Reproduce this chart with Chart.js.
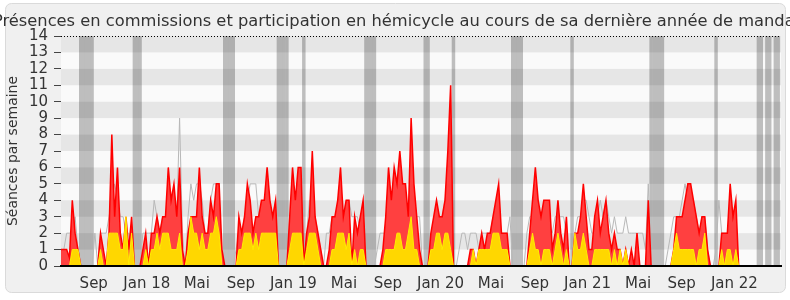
<!DOCTYPE html>
<html>
<head>
<meta charset="utf-8">
<script src="https://cdn.jsdelivr.net/npm/chart.js@4.4.0/dist/chart.umd.min.js"></script>
<style>
  html, body { margin: 0; padding: 0; background: #fff; }
  #wrap { width: 790px; height: 300px; }
</style>
</head>
<body>
<div id="wrap"><canvas id="chart" width="790" height="300"></canvas></div>
<script>
// une valeur par semaine, de juin 2017 a avril 2022
var hemicycle = [
  1,1,1,0.5,4,2,1,0,0,0,  0,0,0,0,2,1,0,2,8,3,  6,2,1,3,1,3,0,0,0,1,
  2,0,2,2,3,2,3,3,6,4,  5,3,6,1,0,2,3,3,3,6,  3,2,2,4,3,5,5,1,0,0,
  0,0,0,3,2,3,5,4,2,3,  3,4,4,6,4,3,4,0,0,0,  0,3,6,4,6,6,0,2,3,7,
  3,2,1,0,0,1,3,3,4,6,  3,4,4,0,3,2,3,4,0,0,  0,0,0,0,1,3,6,4,6,5,
  7,5,5,3,9,5,3,1,0,0,  0,2,3,4,3,3,4,7,11,0, 0,0,0,0,0,1,1,0,1,2,
  1,2,2,3,4,5,2,2,2,0,  0,0,0,0,0,0,2,4,6,4,  3,4,4,4,1,2,4,2,1,3,
  0,0,2,2,3,5,3,1,1,3,  4,2,3,4,2,1,2,1,1,0,  1,0,1,0,2,0,0,0,4,0,
  0,0,0,0,0,0,0,1,3,3,  3,4,5,5,4,3,2,3,3,1,  0,0,0,0,2,2,2,5,3,4,
  0,0,0,0,0,0,0,0,0,0,  0,0,0,0,0,0
];
var interventions = [
  0,0,0,0,1,1,1,0,0,0,  0,0,0,0,1,0,0,2,2,2,  2,1,1,3,0,2,0,0,0,0,
  1,0,1,1,2,1,2,2,2,1,  1,1,2,0,0,1,3,2,2,1,  2,1,1,2,2,3,2,0,0,0,
  0,0,0,1,1,2,2,2,1,2,  1,2,2,2,2,2,2,0,0,0,  0,1,2,2,2,2,0,1,2,2,
  2,1,0,0,0,0,1,1,2,2,  2,1,2,0,1,0,1,1,0,0,  0,0,0,0,0,1,1,1,1,2,
  2,1,1,2,3,1,1,0,0,0,  0,1,1,2,2,1,2,2,1,0,  0,0,0,0,0,0,1,0,1,1,
  1,1,1,2,2,2,1,1,1,0,  0,0,0,0,0,0,1,2,1,1,  0,1,1,1,0,1,2,1,0,1,
  0,0,2,1,1,2,1,0,0,1,  1,1,1,1,1,0,1,0,1,0,  1,0,0,0,0,0,0,0,0,0,
  0,0,0,0,0,0,0,1,2,1,  1,1,1,1,1,0,1,1,2,0,  0,0,0,0,1,0,1,1,0,1,
  0,0,0,0,0,0,0,0,0,0,  0,0,0,0,0,0
];
var commissions = [
  0,1,2,2,2,3,1,0,0,0,  0,0,2,0,2,2,2,3,4,5,  4,3,3,2,2,1,0,0,0,2,
  2,2,2,4,3,2,3,3,4,4,  4,3,9,2,0,3,5,4,5,5,  4,2,2,4,5,5,3,1,0,0,
  0,0,1,2,2,3,4,5,5,5,  3,3,2,3,3,3,4,0,0,0,  0,3,3,4,4,3,0,2,4,4,
  3,2,1,0,2,2,3,3,3,4,  3,4,4,3,3,3,2,3,0,0,  0,0,1,2,2,2,3,3,4,4,
  4,4,4,3,4,3,3,3,0,0,  0,2,2,3,3,3,4,5,6,0,  0,1,2,2,1,2,2,2,1,2,
  2,2,2,3,3,3,2,2,2,3,  0,0,0,0,0,2,3,3,3,3,  3,3,3,2,2,3,3,3,3,2,
  0,0,2,3,3,4,4,3,2,2,  3,4,3,4,3,2,3,2,2,2,  3,2,2,2,2,2,2,1,5,0,
  0,0,0,0,0,1,2,3,3,3,  4,5,4,4,4,3,2,3,3,1,  0,0,1,4,2,2,2,3,3,2,
  0,0,0,0,0,0,0,0,0,0,  0,0,0,0,0,0
];
// semaines de vacances parlementaires
var vacances = [7,8,9,10,11, 26,27,28, 58,59,60,61, 77,78,79,80, 86,
  108,109,110,111, 129,130, 139, 160,161,162,163, 181,
  209,210,211,212,213, 232, 247,248, 250,251, 253,254];

var xTickLabels = ['Sep', 'Jan 18', 'Mai', 'Sep', 'Jan 19', 'Mai', 'Sep',
  'Jan 20', 'Mai', 'Sep', 'Jan 21', 'Mai', 'Sep', 'Jan 22'];
var xTickWeeks = [11.6, 30.4, 48.1, 63.7, 82.3, 100.2, 115.8,
  134.4, 152.3, 167.8, 186.5, 204.4, 219.8, 238.5];

var titre = 'Présences en commissions et participation en hémicycle au cours de sa dernière année de mandat';

function points(values) {
  return values.map(function (v, i) {
    return { x: i, y: v };
  });
}

var vacData = hemicycle.map(function (v, i) {
  return { x: i, y: vacances.indexOf(i) >= 0 ? 14 : null };
});

var fond = {
  id: 'fond',
  beforeDraw: function (chart) {
    var ctx = chart.ctx;
    ctx.save();
    ctx.fillStyle = '#ffffff';
    ctx.fillRect(0, 0, chart.width, chart.height);
    ctx.beginPath();
    ctx.roundRect(5.5, 3.5, 780, 289, 6);
    ctx.fillStyle = '#f0f0f0';
    ctx.fill();
    ctx.strokeStyle = '#dadada';
    ctx.lineWidth = 1;
    ctx.stroke();
    ctx.font = '16.3px "DejaVu Sans"';
    ctx.fillStyle = '#333333';
    ctx.textAlign = 'center';
    ctx.textBaseline = 'alphabetic';
    ctx.fillText(titre, 397, 26);
    ctx.restore();
  },
  beforeDatasetsDraw: function (chart) {
    var a = chart.chartArea, ctx = chart.ctx;
    ctx.save();
    ctx.fillStyle = '#fafafa';
    ctx.fillRect(a.left, a.top, a.right - a.left, a.bottom - a.top);
    ctx.restore();
  },
  afterDatasetDraw: function (chart, args) {
    if (args.index !== 3) return;
    var a = chart.chartArea, ctx = chart.ctx, y = chart.scales.y;
    ctx.save();
    ctx.fillStyle = 'rgba(0,0,0,0.08)';
    for (var v = 1; v < 14; v += 2) {
      var top = y.getPixelForValue(v + 1);
      var bottom = y.getPixelForValue(v);
      ctx.fillRect(a.left, top, a.right - a.left, bottom - top);
    }
    ctx.strokeStyle = '#000000';
    ctx.lineWidth = 1;
    ctx.setLineDash([1, 2]);
    ctx.beginPath();
    ctx.moveTo(a.left, Math.round(a.top) + 0.5);
    ctx.lineTo(a.right, Math.round(a.top) + 0.5);
    ctx.stroke();
    ctx.restore();
  }
};

new Chart(document.getElementById('chart').getContext('2d'), {
  type: 'line',
  data: {
    datasets: [{
      label: 'Interventions',
      data: points(interventions),
      borderColor: '#ffee00',
      backgroundColor: '#ffd700',
      borderWidth: 1,
      fill: 'origin',
      pointRadius: 0,
      tension: 0,
      order: 1
    }, {
      label: 'Participation en hémicycle',
      data: points(hemicycle),
      borderColor: '#ff0000',
      backgroundColor: '#ff4040',
      borderWidth: 1.5,
      fill: 'origin',
      pointRadius: 0,
      tension: 0,
      order: 2
    }, {
      label: 'Présences en commissions',
      data: points(commissions),
      borderColor: '#b8b8b8',
      borderWidth: 1,
      fill: false,
      pointRadius: 0,
      tension: 0,
      order: 3
    }, {
      type: 'bar',
      label: 'Vacances',
      data: vacData,
      backgroundColor: '#bebebe',
      borderWidth: 0,
      barPercentage: 1,
      categoryPercentage: 1,
      order: 4
    }]
  },
  options: {
    responsive: false,
    animation: false,
    events: [],
    layout: { padding: { top: 36, right: 9, left: 0, bottom: 0 } },
    plugins: {
      legend: { display: false },
      tooltip: { enabled: false }
    },
    scales: {
      x: {
        type: 'linear',
        min: 0,
        max: 255,
        offset: false,
        afterFit: function (scale) { scale.height = 34; },
        afterBuildTicks: function (scale) {
          scale.ticks = xTickWeeks.map(function (w) { return { value: w }; });
        },
        grid: { display: false, offset: false },
        border: { display: true, color: '#000000', width: 2, z: 1 },
        ticks: {
          autoSkip: false,
          maxRotation: 0,
          padding: 1,
          color: '#333333',
          font: { family: 'DejaVu Sans', size: 15 },
          callback: function (value, index) { return xTickLabels[index]; }
        }
      },
      y: {
        min: 0,
        max: 14,
        afterFit: function (scale) { scale.width = 61; },
        grid: { display: true, drawOnChartArea: false, drawTicks: true, tickLength: 7, color: '#444444' },
        border: { display: true, color: '#000000', width: 1 },
        ticks: {
          stepSize: 1,
          autoSkip: false,
          padding: 6,
          color: '#333333',
          font: { family: 'DejaVu Sans', size: 15 }
        },
        title: {
          display: true,
          text: 'Séances par semaine',
          color: '#333333',
          font: { family: 'DejaVu Sans', size: 14 },
          padding: { top: 5, bottom: 0 }
        }
      }
    }
  },
  plugins: [fond]
});
</script>
</body>
</html>
